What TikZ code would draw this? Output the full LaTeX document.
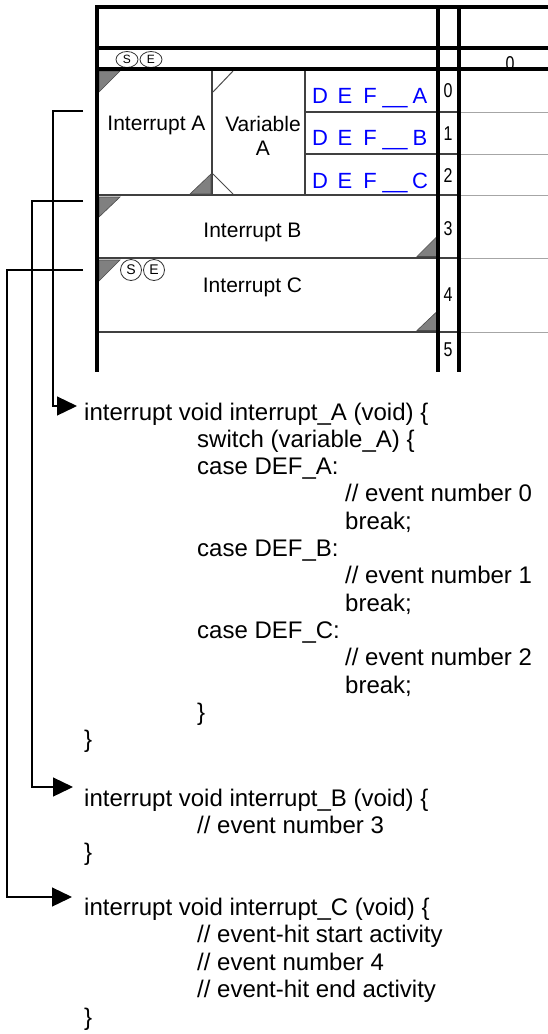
\documentclass[tikz,border=0pt]{standalone}
\usepackage{fontspec}
\setmainfont{Liberation Sans}
\usetikzlibrary{arrows.meta,shapes.geometric}
\begin{document}
\begin{tikzpicture}[x=1pt,y=-1pt,
  frame/.style={line width=3.2pt, black},
  cellline/.style={line width=1.5pt, black!75},
  gridline/.style={line width=1pt, black!35},
  tri/.style={fill=black!50, draw=black!70, line width=0.6pt},
  diag/.style={line width=1pt, black!70},
  lbl/.style={font=\fontsize{21}{24}\selectfont, inner sep=0pt, anchor=base},
  codeline/.style={font=\fontsize{24}{27}\selectfont, anchor=base west, inner sep=0pt},
  defc/.style={text=blue, font=\fontsize{22}{22}\selectfont, anchor=base, inner sep=0pt},
  num/.style={font=\fontsize{20}{20}\selectfont, inner sep=0pt},
  se/.style={draw=black!80, line width=0.8pt, fill=white},
  bracket/.style={line width=1.3pt, black},
  arr/.style={bracket, -{Triangle[length=20pt,width=19pt]}}
]
\useasboundingbox (0,0) rectangle (548,1034);
\fill[white] (0,0) rectangle (548,1034);

% light grid lines in right region
\foreach \yy in {112,154,195,258,332} \draw[gridline] (459,\yy) -- (548,\yy);

% cell lines
\foreach \yy in {195,258,332} \draw[cellline] (97,\yy) -- (459,\yy);
\foreach \yy in {112,154} \draw[cellline] (305,\yy) -- (459,\yy);
\draw[cellline] (212,69) -- (212,195);
\draw[cellline] (305,69) -- (305,195);

% corner marks
\draw[tri] (99,71) -- (120,71) -- (99,92) -- cycle;
\draw[tri] (190,194) -- (211,194) -- (211,174) -- cycle;
\draw[diag] (213,92) -- (233,71);
\draw[diag] (213,174) -- (233,194);
\draw[tri] (99,197) -- (120,197) -- (99,217) -- cycle;
\draw[tri] (417,256.5) -- (436.5,256.5) -- (436.5,237) -- cycle;
\draw[tri] (99,260) -- (120,260) -- (99,281) -- cycle;
\draw[tri] (417,330.5) -- (436.5,330.5) -- (436.5,312) -- cycle;

% (S)(E) marks in Interrupt C row
\node[se, circle, minimum size=21pt, inner sep=0pt, font=\fontsize{14}{14}\selectfont] (seS) at (131,270) {S};
\node[se, circle, minimum size=21pt, inner sep=0pt, font=\fontsize{14}{14}\selectfont] (seE) at (154,270) {E};

% (S)(E) header marks, clipped
\begin{scope}
  \clip (99,50) rectangle (200,67.5);
  \node[se, ellipse, minimum width=22pt, minimum height=16pt, inner sep=0pt, font=\fontsize{12}{12}\selectfont] (hS) at (127,59.5) {S};
  \node[se, ellipse, minimum width=22pt, minimum height=16pt, inner sep=0pt, font=\fontsize{12}{12}\selectfont] (hE) at (151,59.5) {E};
\end{scope}

% header "0", clipped by row line
\begin{scope}
  \clip (490,50) rectangle (530,67.5);
  \node[num, anchor=base] (hzero) at (510,70) {\scalebox{0.8}[1]{0}};
\end{scope}

% frame
\draw[frame] (548,7) -- (97,7) -- (97,372);
\draw[frame] (97,48) -- (548,48);
\draw[frame] (97,69) -- (548,69);
\draw[frame] (438,7) -- (438,372);
\draw[frame] (459,7) -- (459,372);

% cell labels
\node[lbl] (intA) at (156.5,130) {Interrupt A};
\node[lbl] (varA1) at (263,131) {Variable};
\node[lbl] (varA2) at (263,155) {A};
\node[lbl] (intB) at (252.5,237) {Interrupt B};
\node[lbl] (intC) at (252.5,292) {Interrupt C};

% DEF labels
\foreach \r/\l in {0/A,1/B,2/C} {
  \node[defc] (def\l D) at (320,103+42.5*\r) {D};
  \node[defc] (def\l E) at (345,103+42.5*\r) {E};
  \node[defc] (def\l F) at (370,103+42.5*\r) {F};
  \node[defc] (def\l U) at (395,103+42.5*\r) {\scalebox{2}[1]{\_}};
  \node[defc] (def\l L) at (420,103+42.5*\r) {\l};
}

% row numbers
\node[num] (n0) at (448,91) {\scalebox{0.8}[1]{0}};
\node[num] (n1) at (448,134) {\scalebox{0.8}[1]{1}};
\node[num] (n2) at (448,176) {\scalebox{0.8}[1]{2}};
\node[num] (n3) at (448,228.5) {\scalebox{0.8}[1]{3}};
\node[num] (n4) at (448,294.5) {\scalebox{0.8}[1]{4}};
\node[num] (n5) at (448,350) {\scalebox{0.8}[1]{5}};

% code
\node[codeline] (a1) at (84,420) {interrupt void interrupt\_A (void) \{};
\node[codeline] (a2) at (197,447.3) {switch (variable\_A) \{};
\node[codeline] (a3) at (197,474.6) {case DEF\_A:};
\node[codeline] (a4) at (345,501.9) {// event number 0};
\node[codeline] (a5) at (345,529.2) {break;};
\node[codeline] (a6) at (197,556.5) {case DEF\_B:};
\node[codeline] (a7) at (345,583.8) {// event number 1};
\node[codeline] (a8) at (345,611.1) {break;};
\node[codeline] (a9) at (197,638.4) {case DEF\_C:};
\node[codeline] (a10) at (345,665.7) {// event number 2};
\node[codeline] (a11) at (345,693) {break;};
\node[codeline] (a12) at (197,720.3) {\}};
\node[codeline] (a13) at (84,747.6) {\}};
\node[codeline] (b1) at (84,806) {interrupt void interrupt\_B (void) \{};
\node[codeline] (b2) at (197,833.3) {// event number 3};
\node[codeline] (b3) at (84,860.6) {\}};
\node[codeline] (c1) at (84,915) {interrupt void interrupt\_C (void) \{};
\node[codeline] (c2) at (197,942.5) {// event-hit start activity};
\node[codeline] (c3) at (197,970) {// event number 4};
\node[codeline] (c4) at (197,997.5) {// event-hit end activity};
\node[codeline] (c5) at (84,1025) {\}};

% brackets
\coordinate (aTop) at (83,111);
\coordinate (aBend) at (53,406);
\coordinate (aTip) at (77,406);
\coordinate (bTop) at (83,201);
\coordinate (bBend) at (32,787);
\coordinate (bTip) at (73,787);
\coordinate (cTop) at (83,270);
\coordinate (cBend) at (7,897);
\coordinate (cTip) at (72,897);
\draw[arr] (aTop) -| (aBend) -- (aTip);
\draw[arr] (bTop) -| (bBend) -- (bTip);
\draw[arr] (cTop) -| (cBend) -- (cTip);
\end{tikzpicture}
\end{document}
